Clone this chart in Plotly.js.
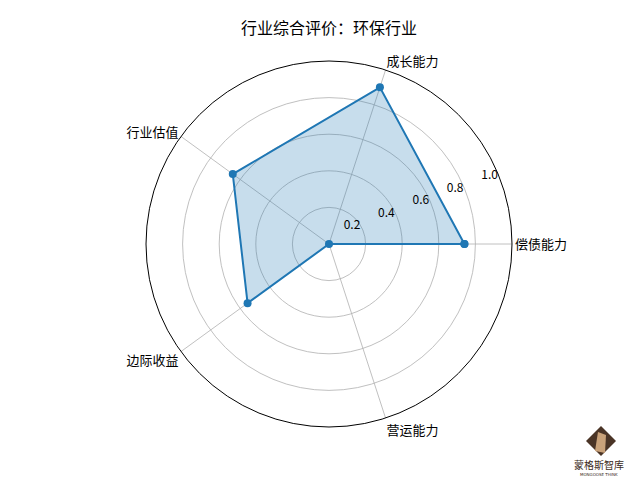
<!DOCTYPE html>
<html>
<head>
<meta charset="utf-8">
<script src="https://cdn.plot.ly/plotly-3.0.1.min.js"></script>
<style>html,body{margin:0;padding:0;background:#fff;}#chart{width:640px;height:480px;}</style>
</head>
<body>
<div id="chart"></div>
<script>
// Data
const categories = ['偿债能力', '成长能力', '行业估值', '边际收益', '营运能力'];
const values = [0.74, 0.90, 0.65, 0.55, 0.0];
const radialTicks = [0.2, 0.4, 0.6, 0.8, 1.0];
const radialTickLabels = ['0.2', '0.4', '0.6', '0.8', '1.0'];
const chartTitle = '行业综合评价：环保行业';
const logoName = '蒙格斯智库';
const logoSub = 'MONGOOSE THINK';

const FONT = '"Noto Sans CJK SC", "DejaVu Sans", sans-serif';
const blue = '#1f77b4';

const thetaClosed = categories.concat([categories[0]]);
const rClosed = values.concat([values[0]]);

const trace = {
  type: 'scatterpolar',
  r: rClosed,
  theta: thetaClosed,
  mode: 'lines+markers',
  fill: 'toself',
  fillcolor: 'rgba(31,119,180,0.25)',
  line: {color: blue, width: 2},
  marker: {color: blue, size: 8},
  hoverinfo: 'skip',
  showlegend: false
};

// plot area geometry (pixels) used for logo placement
const L = 146, T = 61, W = 366, H = 366;
function px(x) { return (x - L) / W; }
function py(y) { return (T + H - y) / H; }

const cx = 601, cy = 441, hs = 15;
const diamond = 'M ' + px(cx) + ',' + py(cy - hs) + ' L ' + px(cx + hs) + ',' + py(cy) +
  ' L ' + px(cx) + ',' + py(cy + hs) + ' L ' + px(cx - hs) + ',' + py(cy) + ' Z';
const inner = 'M ' + px(cx - 3) + ',' + py(cy - 9) + ' L ' + px(cx + 5) + ',' + py(cy - 6) +
  ' L ' + px(cx + 4) + ',' + py(cy + 12) + ' L ' + px(cx - 6) + ',' + py(cy + 10) + ' Z';

const layout = {
  width: 640,
  height: 480,
  margin: {l: L, r: 640 - L - W, t: T, b: 480 - T - H, pad: 0},
  paper_bgcolor: '#ffffff',
  plot_bgcolor: '#ffffff',
  font: {family: FONT, size: 13, color: '#000000'},
  title: {
    text: chartTitle,
    font: {family: FONT, size: 16, color: '#000000'},
    x: (L + W / 2) / 640,
    xanchor: 'center',
    y: 1 - 28 / 480,
    yanchor: 'middle'
  },
  polar: {
    domain: {x: [0, 1], y: [0, 1]},
    bgcolor: '#ffffff',
    angularaxis: {
      type: 'category',
      categoryarray: categories,
      direction: 'counterclockwise',
      rotation: 0,
      showline: true,
      linecolor: '#000000',
      linewidth: 1,
      showgrid: true,
      gridcolor: '#b0b0b0',
      gridwidth: 0.8,
      ticks: '',
      tickfont: {family: FONT, size: 13, color: '#000000'}
    },
    radialaxis: {
      range: [0, 1],
      angle: 20,
      tickangle: 20,
      showline: false,
      ticks: '',
      tickvals: radialTicks,
      ticktext: radialTickLabels,
      gridcolor: '#b0b0b0',
      gridwidth: 0.8,
      side: 'counterclockwise',
      tickfont: {family: FONT, size: 12, color: '#000000'}
    }
  },
  shapes: [
    {type: 'path', xref: 'paper', yref: 'paper', path: diamond,
     fillcolor: '#4a3426', line: {width: 0}},
    {type: 'path', xref: 'paper', yref: 'paper', path: inner,
     fillcolor: '#c9a27a', line: {width: 0}}
  ],
  annotations: [
    {xref: 'paper', yref: 'paper', x: px(599), y: py(465), text: logoName,
     showarrow: false, xanchor: 'center', yanchor: 'middle',
     font: {family: FONT, size: 10, color: '#3a2a20'}},
    {xref: 'paper', yref: 'paper', x: px(599), y: py(474), text: logoSub,
     showarrow: false, xanchor: 'center', yanchor: 'middle',
     font: {family: 'DejaVu Sans', size: 4, color: '#3a2a20'}}
  ]
};

Plotly.newPlot('chart', [trace], layout, {staticPlot: true, displayModeBar: false});
</script>
</body>
</html>
